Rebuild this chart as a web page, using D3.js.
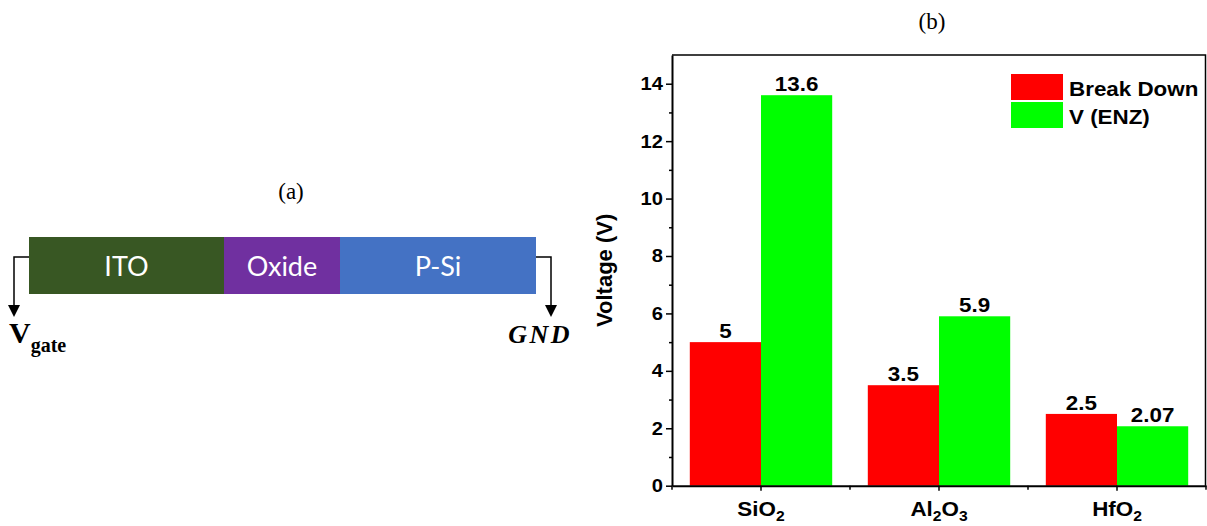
<!DOCTYPE html>
<html><head><meta charset="utf-8">
<script src="https://cdn.jsdelivr.net/npm/d3@7"></script>
<style>body{margin:0;background:#fff}svg{display:block}</style>
</head><body>
<svg id="c" width="1207" height="526"></svg>
<script>
// ---------- data ----------
const categories = ["SiO2", "Al2O3", "HfO2"];
const catMain = ["SiO", "Al", "HfO"];
const seriesNames = ["Break Down", "V (ENZ)"];
const breakDown = [5, 3.5, 2.5];
const vENZ = [13.6, 5.9, 2.07];
const valueLabels = [["5", "3.5", "2.5"], ["13.6", "5.9", "2.07"]];
const seriesColors = ["#ff0000", "#00ff00"];
const yMajorTicks = [0, 2, 4, 6, 8, 10, 12, 14];
const yMinorTicks = [1, 3, 5, 7, 9, 11, 13];
const layers = ["ITO", "Oxide", "P-Si"];
const layerWidths = [195, 116, 196];
const layerColors = ["#385723", "#7030a0", "#4472c4"];

const svg = d3.select("#c");
const SX = 1.12; // horizontal stretch of the chart's text

// ---------- (a) diagram ----------
const dx = d3.scaleLinear().domain([0, d3.sum(layerWidths)]).range([29, 536]);
let acc = 0;
const layerData = layers.map((n, i) => { const d = {n, s: acc, e: acc + layerWidths[i], c: layerColors[i]}; acc += layerWidths[i]; return d; });
const gA = svg.append("g");
gA.selectAll("rect").data(layerData).join("rect")
  .attr("x", d => dx(d.s)).attr("y", 237).attr("width", d => dx(d.e) - dx(d.s)).attr("height", 57)
  .attr("fill", d => d.c);
gA.selectAll("text.l").data(layerData).join("text").attr("class", "l")
  .attr("x", d => (dx(d.s) + dx(d.e)) / 2).attr("y", 276).attr("text-anchor", "middle")
  .attr("fill", "#fff").attr("font-family", "Lato, 'Open Sans', sans-serif").attr("font-size", 27)
  .text(d => d.n);
gA.append("text").attr("x", 291).attr("y", 199).attr("text-anchor", "middle")
  .attr("font-family", "'Liberation Serif', serif").attr("font-size", 23).text("(a)");
// wires
gA.append("path").attr("d", "M29,257H14V306").attr("fill", "none").attr("stroke", "#000").attr("stroke-width", 1.5);
gA.append("path").attr("d", "M8,305L20,305L14,317Z").attr("fill", "#000");
gA.append("path").attr("d", "M536,257H551V306").attr("fill", "none").attr("stroke", "#000").attr("stroke-width", 1.5);
gA.append("path").attr("d", "M545,305L557,305L551,317Z").attr("fill", "#000");
const vt = gA.append("text").attr("x", 9).attr("y", 343).attr("font-family", "'Liberation Serif', serif").attr("font-weight", "bold");
vt.append("tspan").attr("font-size", 30).text("V");
vt.append("tspan").attr("font-size", 20).attr("dy", 9).text("gate");
gA.append("text").attr("x", 572).attr("y", 343).attr("text-anchor", "end")
  .attr("font-family", "'Liberation Serif', serif").attr("font-size", 26).attr("font-style", "italic").attr("font-weight", "bold")
  .attr("letter-spacing", 2.5).text("GND");

// ---------- (b) chart ----------
const pL = 672, pR = 1206, pT = 55, pB = 485.7;
const x = d3.scaleBand().domain(categories).range([pL, pR]).paddingInner(0.2).paddingOuter(0.1);
const xs = d3.scaleBand().domain(seriesNames).range([0, x.bandwidth()]);
const y = d3.scaleLinear().domain([0, 15]).range([pB, pT]);
const font = "'Liberation Sans', Arial, sans-serif";
const place = (px, py) => `translate(${px},${py}) scale(${SX},1)`;

svg.append("text").attr("x", 932).attr("y", 29).attr("text-anchor", "middle")
  .attr("font-family", "'Liberation Serif', serif").attr("font-size", 23).text("(b)");

const series = [breakDown, vENZ];
const bars = [];
series.forEach((vals, si) => vals.forEach((v, ci) => bars.push({si, ci, v, cat: categories[ci], lab: valueLabels[si][ci]})));

const gb = svg.append("g");
gb.selectAll("rect").data(bars).join("rect")
  .attr("x", d => x(d.cat) + xs(seriesNames[d.si]))
  .attr("y", d => y(d.v)).attr("width", xs.bandwidth()).attr("height", d => y(0) - y(d.v))
  .attr("fill", d => seriesColors[d.si]);
gb.selectAll("text").data(bars).join("text")
  .attr("transform", d => place(x(d.cat) + xs(seriesNames[d.si]) + xs.bandwidth() / 2, y(d.v) - 4))
  .attr("text-anchor", "middle")
  .attr("font-family", font).attr("font-weight", "bold").attr("font-size", 20)
  .text(d => d.lab);

// frame top & right
svg.append("path").attr("d", `M${pL},${pT}H${pR - 0.5}V${pB}`).attr("fill", "none").attr("stroke", "#000").attr("stroke-width", 1.5);

// y axis
const yAx = svg.append("g").attr("transform", `translate(${pL},0)`)
  .call(d3.axisLeft(y).tickValues(yMajorTicks).tickSize(6).tickSizeOuter(0).tickFormat(""));
yAx.select(".domain").attr("stroke-width", 2);
yAx.selectAll(".tick line").attr("stroke-width", 1.5);
svg.append("g").selectAll("text").data(yMajorTicks).join("text")
  .attr("transform", d => place(pL - 9, y(d) + 6.5)).attr("text-anchor", "end")
  .attr("font-family", font).attr("font-weight", "bold").attr("font-size", 18).text(d => d);
const yMin = svg.append("g").attr("transform", `translate(${pL},0)`)
  .call(d3.axisLeft(y).tickValues(yMinorTicks).tickSize(3).tickSizeOuter(0).tickFormat(""));
yMin.select(".domain").remove();
yMin.selectAll(".tick line").attr("stroke-width", 1.5);

// x axis
const xAx = svg.append("g").attr("transform", `translate(0,${pB})`)
  .call(d3.axisBottom(x).tickSize(5).tickSizeOuter(0).tickFormat(""));
xAx.select(".domain").attr("stroke-width", 2);
xAx.selectAll(".tick line").attr("stroke-width", 1.5);
const bounds = categories.map(c => x(c) - x.step() * x.paddingInner() / 2).concat([pR]);
svg.append("g").selectAll("line").data(bounds).join("line")
  .attr("x1", d => d).attr("x2", d => d).attr("y1", pB).attr("y2", pB + 4)
  .attr("stroke", "#000").attr("stroke-width", 1.5);

// x labels with subscripts
const xl = svg.append("g").selectAll("text").data(categories).join("text")
  .attr("transform", d => place(x(d) + x.bandwidth() / 2, 516)).attr("text-anchor", "middle")
  .attr("font-family", font).attr("font-weight", "bold").attr("font-size", 20);
xl.each(function(d, i) {
  const t = d3.select(this);
  if (d === "Al2O3") {
    t.append("tspan").text("Al");
    t.append("tspan").attr("font-size", 14).attr("dy", 5).text("2");
    t.append("tspan").attr("dy", -5).text("O");
    t.append("tspan").attr("font-size", 14).attr("dy", 5).text("3");
  } else {
    t.append("tspan").text(catMain[i]);
    t.append("tspan").attr("font-size", 14).attr("dy", 5).text("2");
  }
});

// y title
svg.append("text").attr("transform", `translate(612,${(pT + pB) / 2}) rotate(-90)`)
  .attr("text-anchor", "middle").attr("font-family", font).attr("font-weight", "bold").attr("font-size", 22)
  .text("Voltage (V)");

// legend
const lg = svg.append("g");
lg.selectAll("rect").data(seriesNames).join("rect")
  .attr("x", 1011).attr("y", (d, i) => 74 + i * 28).attr("width", 52).attr("height", 26)
  .attr("fill", (d, i) => seriesColors[i]);
lg.selectAll("text").data(seriesNames).join("text")
  .attr("transform", (d, i) => place(1069, 96 + i * 28))
  .attr("font-family", font).attr("font-weight", "bold").attr("font-size", 20)
  .text(d => d);
</script>
</body></html>
